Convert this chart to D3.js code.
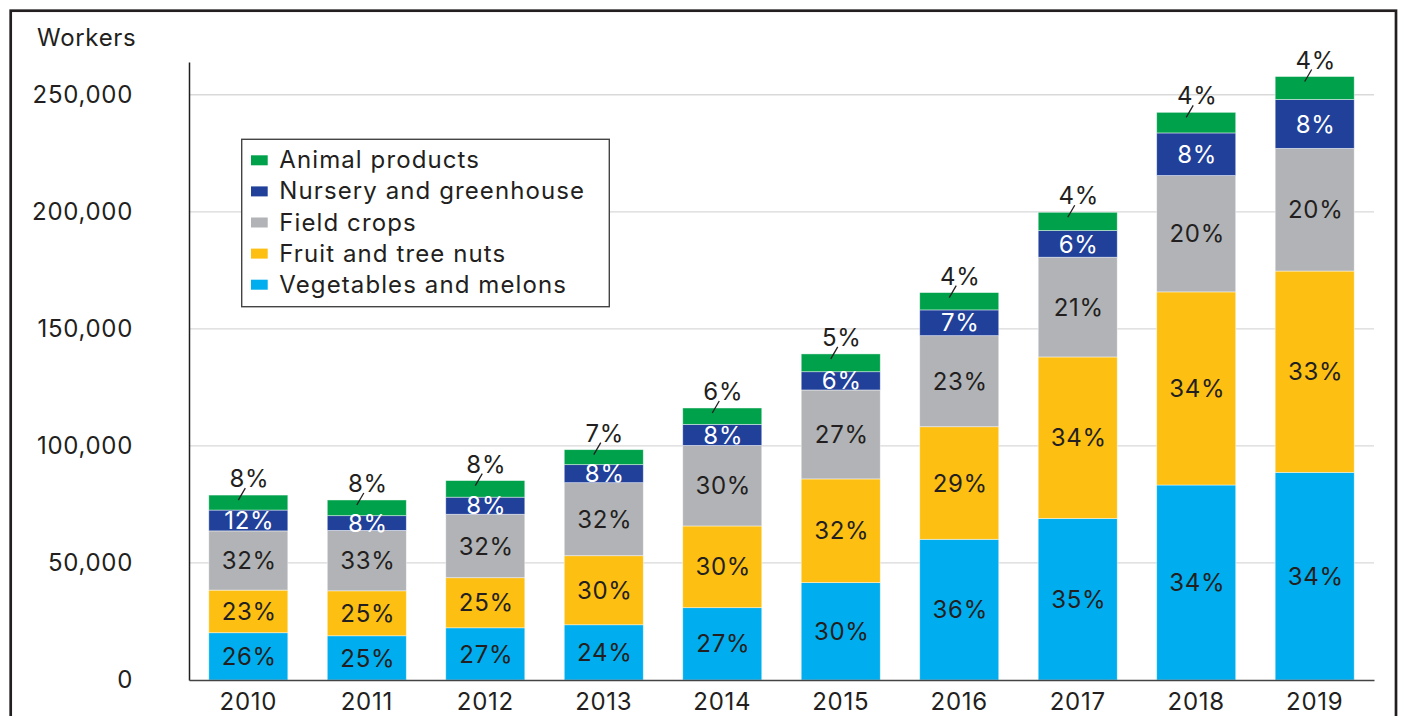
<!DOCTYPE html>
<html>
<head>
<meta charset="utf-8">
<script src="https://cdn.jsdelivr.net/npm/d3@7"></script>
<style>
  body { margin: 0; background: #fff; }
  svg text { font-family: Inter, "Liberation Sans", Arial, sans-serif; fill: #231f20; letter-spacing: 0.7px; }
</style>
</head>
<body>
<div id="chart-container"></div>
<script>
// years on the x axis
const years = ["2010", "2011", "2012", "2013", "2014", "2015", "2016", "2017", "2018", "2019"];

// series, bottom to top of the stack
const seriesNames = ["Vegetables and melons", "Fruit and tree nuts", "Field crops", "Nursery and greenhouse", "Animal products"];
const seriesColors = ["#00adee", "#fdbf12", "#b1b3b6", "#21409a", "#00a14b"];

// workers per segment
const vegetables = [20200, 18900, 22300, 23600, 30900, 41600, 60100, 69000, 83300, 88700];
const fruit      = [18200, 19200, 21400, 29500, 34900, 44300, 48100, 69000, 82500, 86000];
const fieldCrops = [25300, 25800, 27100, 31200, 34400, 38000, 38900, 42600, 49700, 52400];
const nursery    = [8900, 6300, 7300, 7700, 9000, 7800, 11000, 11400, 18200, 20900];
const animal     = [6400, 6700, 7100, 6400, 7000, 7600, 7400, 7800, 8800, 9800];

// percent labels as printed on the chart
const vegPct     = [26, 25, 27, 24, 27, 30, 36, 35, 34, 34];
const fruitPct   = [23, 25, 25, 30, 30, 32, 29, 34, 34, 33];
const fieldPct   = [32, 33, 32, 32, 30, 27, 23, 21, 20, 20];
const nurseryPct = [12, 8, 8, 8, 8, 6, 7, 6, 8, 8];
const animalPct  = [8, 8, 8, 7, 6, 5, 4, 4, 4, 4];

const yTicks = [0, 50000, 100000, 150000, 200000, 250000];

const values = [vegetables, fruit, fieldCrops, nursery, animal];
const pcts = [vegPct, fruitPct, fieldPct, nurseryPct, animalPct];
const textColors = ["#231f20", "#231f20", "#231f20", "#ffffff", "#231f20"];

// table for d3.stack
const table = years.map((yr, i) => {
    const row = { year: yr };
    seriesNames.forEach((s, k) => { row[s] = values[k][i]; });
    return row;
});

const svg = d3.select("#chart-container")
    .append("svg")
    .attr("width", 1401)
    .attr("height", 716);

// outer frame
svg.append("rect")
    .attr("x", 10.7).attr("y", 10.7)
    .attr("width", 1385.3).attr("height", 800)
    .attr("fill", "none")
    .attr("stroke", "#231f20")
    .attr("stroke-width", 2.7);

const plotLeft = 189, plotRight = 1374, plotBottom = 680, plotTop = 62;

const x = d3.scaleBand()
    .domain(years)
    .range([plotLeft, plotRight])
    .paddingInner(0.333)
    .paddingOuter(0.167);

const y = d3.scaleLinear()
    .domain([0, 264000])
    .range([plotBottom, plotTop]);

// gridlines
svg.append("g")
    .selectAll("line")
    .data(yTicks.slice(1))
    .enter()
    .append("line")
    .attr("x1", plotLeft).attr("x2", plotRight)
    .attr("y1", d => y(d)).attr("y2", d => y(d))
    .attr("stroke", "#d9d9d9")
    .attr("stroke-width", 1.3);

// y axis
const yAxis = svg.append("g")
    .attr("transform", "translate(" + plotLeft + ",0)")
    .call(d3.axisLeft(y).tickValues(yTicks).tickSize(0).tickPadding(56).tickFormat(d3.format(",")));
yAxis.select(".domain").attr("stroke", "#231f20").attr("stroke-width", 1.5);
yAxis.selectAll("text").style("font-size", "24px").attr("fill", "#231f20");

svg.append("text")
    .attr("x", 37).attr("y", 46)
    .style("font-size", "24px")
    .text("Workers");

// stacked bars
const stack = d3.stack().keys(seriesNames);
const layers = stack(table);

const layerG = svg.append("g")
    .selectAll("g")
    .data(layers)
    .enter()
    .append("g")
    .attr("fill", (d, k) => seriesColors[k]);

layerG.selectAll("rect")
    .data(d => d)
    .enter()
    .append("rect")
    .attr("x", d => x(d.data.year))
    .attr("y", d => y(d[1]))
    .attr("width", x.bandwidth())
    .attr("height", d => y(d[0]) - y(d[1]))
    .attr("stroke", "rgba(255,255,255,0.55)")
    .attr("stroke-width", 0.8);

// x axis (drawn after bars so the baseline sits on top)
const xAxis = svg.append("g")
    .attr("transform", "translate(0," + plotBottom + ")")
    .call(d3.axisBottom(x).tickSize(0).tickSizeOuter(0));
xAxis.select(".domain").attr("stroke", "#444").attr("stroke-width", 1.6);
xAxis.selectAll("text")
    .attr("y", 30).attr("dy", 0)
    .style("font-size", "24px")
    .attr("fill", "#231f20");

// labels inside segments (all but the top one)
layers.slice(0, 4).forEach((layer, k) => {
    svg.append("g")
        .selectAll("text")
        .data(layer)
        .enter()
        .append("text")
        .attr("x", d => x(d.data.year) + x.bandwidth() / 2 + 1)
        .attr("y", d => (y(d[0]) + y(d[1])) / 2)
        .attr("dy", "0.36em")
        .attr("text-anchor", "middle")
        .style("font-size", "24px")
        .style("fill", textColors[k])
        .text((d, i) => pcts[k][i] + "%");
});

// animal products: label above the bar with a short leader
const topLayer = layers[4];
svg.append("g")
    .selectAll("line")
    .data(topLayer)
    .enter()
    .append("line")
    .attr("x1", d => x(d.data.year) + x.bandwidth() / 2 - 10)
    .attr("y1", d => y(d[1]) + 5)
    .attr("x2", d => x(d.data.year) + x.bandwidth() / 2 - 3)
    .attr("y2", d => y(d[1]) - 7)
    .attr("stroke", "#231f20")
    .attr("stroke-width", 1.3);

svg.append("g")
    .selectAll("text")
    .data(topLayer)
    .enter()
    .append("text")
    .attr("x", d => x(d.data.year) + x.bandwidth() / 2 + 1)
    .attr("y", d => y(d[1]) - 8)
    .attr("text-anchor", "middle")
    .style("font-size", "24px")
    .text((d, i) => animalPct[i] + "%");

// legend
const legend = svg.append("g").attr("transform", "translate(241.7,139.3)");
legend.append("rect")
    .attr("width", 367.6).attr("height", 167.4)
    .attr("fill", "#fff")
    .attr("stroke", "#444")
    .attr("stroke-width", 1.4);

const legendOrder = [4, 3, 2, 1, 0];
const items = legend.selectAll(".item")
    .data(legendOrder)
    .enter()
    .append("g")
    .attr("class", "item")
    .attr("transform", (k, j) => "translate(0," + (29 + j * 31.1) + ")");
items.append("rect")
    .attr("x", 9.3).attr("y", -13)
    .attr("width", 16.7).attr("height", 10)
    .attr("fill", k => seriesColors[k]);
items.append("text")
    .attr("x", 37.6).attr("y", 0)
    .style("font-size", "24px")
    .style("letter-spacing", "1.1px")
    .text(k => seriesNames[k]);
</script>
</body>
</html>
